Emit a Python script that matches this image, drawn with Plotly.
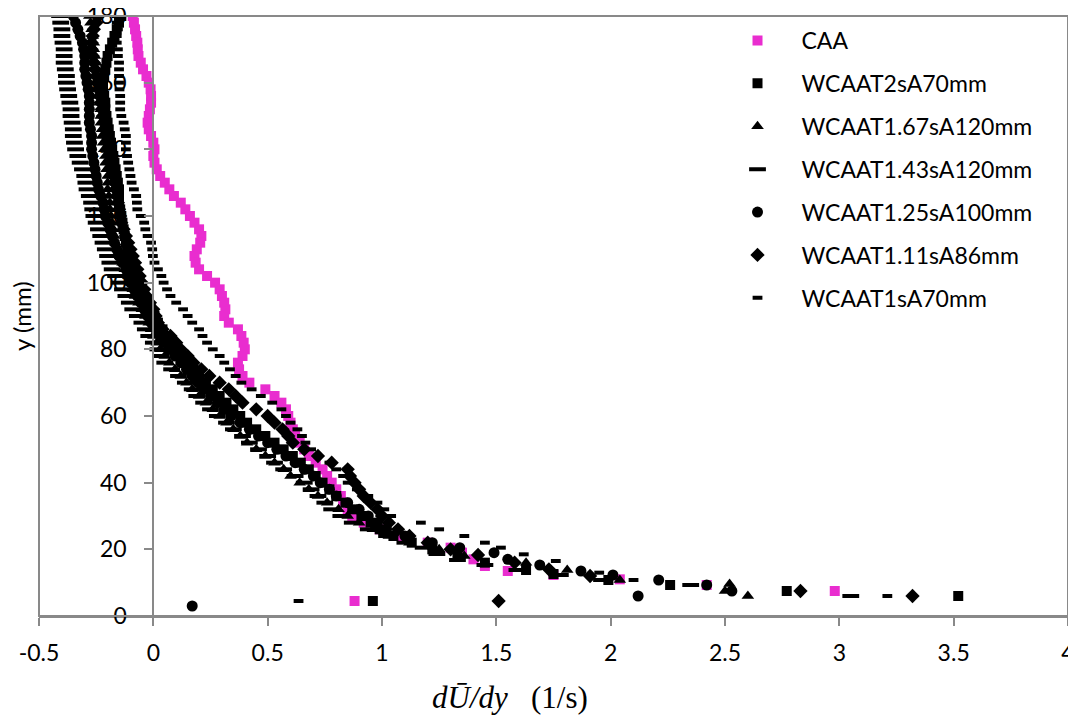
import plotly.graph_objects as go

# Shared y grid (mm) for the profile part of every series
Y_GRID = [180, 178, 176, 174, 172, 170, 168, 166, 164, 162, 160, 158, 156, 154, 152, 150,
          148, 146, 144, 142, 140, 138, 136, 134, 132, 130, 128, 126, 124, 122, 120, 118,
          116, 114, 112, 110, 108, 106, 104, 102, 100, 98, 96, 94, 92, 90, 88, 86,
          84, 82, 80, 78, 76, 74, 72, 70, 68, 66, 64, 62, 60, 58, 56, 54,
          52, 50, 48, 46, 44, 42, 40, 38, 36, 34, 32, 30, 28, 26, 24, 22]

# dU/dy (1/s) along Y_GRID
CAA_X = [-0.09, -0.085, -0.08, -0.075, -0.07, -0.068, -0.065, -0.055, -0.045, -0.03, -0.02, -0.012, -0.01, -0.01, -0.015, -0.02,
         -0.025, -0.02, -0.01, 0.0, 0.005, 0.0, 0.005, 0.015, 0.03, 0.05, 0.07, 0.09, 0.12, 0.14, 0.16, 0.18,
         0.2, 0.21, 0.205, 0.19, 0.18, 0.185, 0.2, 0.235, 0.27, 0.29, 0.3, 0.31, 0.315, 0.31, 0.33, 0.37,
         0.385, 0.395, 0.4, 0.39, 0.37, 0.375, 0.39, 0.42, 0.49, 0.53, 0.56, 0.58, 0.59, 0.6, 0.61, 0.62,
         0.64, 0.66, 0.68, 0.71, 0.74, 0.76, 0.78, 0.8, 0.82, 0.83, 0.85, 0.87, 0.92, 0.99, 1.08, 1.2]
CAA_NEAR_Y = [20.5, 19, 17, 15, 13.5, 12.3, 11, 9.3, 7.5, 4.5]
CAA_NEAR_X = [1.3, 1.35, 1.4, 1.45, 1.55, 1.75, 2.04, 2.42, 2.98, 0.88]

T2_X = [-0.14, -0.15, -0.16, -0.17, -0.18, -0.19, -0.2, -0.205, -0.21, -0.215, -0.22, -0.22, -0.215, -0.21, -0.21, -0.205,
        -0.2, -0.195, -0.19, -0.185, -0.18, -0.175, -0.17, -0.165, -0.16, -0.155, -0.15, -0.15, -0.15, -0.145, -0.14, -0.135,
        -0.13, -0.125, -0.12, -0.115, -0.11, -0.1, -0.09, -0.08, -0.07, -0.055, -0.04, -0.025, -0.01, 0.005, 0.02, 0.04,
        0.06, 0.08, 0.1, 0.125, 0.15, 0.175, 0.2, 0.23, 0.26, 0.29, 0.32, 0.35, 0.38, 0.41, 0.45, 0.49,
        0.53, 0.57, 0.61, 0.645, 0.68, 0.71, 0.74, 0.77, 0.8, 0.84, 0.87, 0.91, 0.95, 0.99, 1.05, 1.13]
T2_NEAR_Y = [20, 18, 16, 13.8, 12.6, 10.8, 9.3, 7.5, 6, 4.5]
T2_NEAR_X = [1.22, 1.33, 1.45, 1.63, 1.75, 1.99, 2.26, 2.77, 3.52, 0.96]

T167_X = [-0.28, -0.275, -0.27, -0.265, -0.26, -0.26, -0.255, -0.25, -0.25, -0.25, -0.245, -0.24, -0.24, -0.235, -0.23, -0.23,
          -0.23, -0.225, -0.225, -0.22, -0.215, -0.21, -0.21, -0.205, -0.2, -0.2, -0.2, -0.195, -0.19, -0.19, -0.185, -0.18,
          -0.175, -0.17, -0.165, -0.155, -0.145, -0.135, -0.125, -0.11, -0.1, -0.09, -0.08, -0.065, -0.05, -0.035, -0.02, -0.01,
          0.0, 0.015, 0.03, 0.05, 0.07, 0.095, 0.12, 0.145, 0.17, 0.2, 0.23, 0.26, 0.29, 0.32, 0.35, 0.38,
          0.41, 0.45, 0.49, 0.53, 0.57, 0.6, 0.64, 0.68, 0.72, 0.76, 0.81, 0.85, 0.9, 0.96, 1.03, 1.12]
T167_NEAR_Y = [20, 18, 16, 13.8, 10.8, 9.6, 7.5, 6]
T167_NEAR_X = [1.25, 1.36, 1.63, 1.81, 2.04, 2.52, 2.5, 2.6]

T143_X = [-0.41, -0.405, -0.4, -0.4, -0.395, -0.39, -0.39, -0.39, -0.385, -0.38, -0.38, -0.375, -0.37, -0.365, -0.36, -0.36,
          -0.355, -0.35, -0.35, -0.345, -0.34, -0.33, -0.32, -0.31, -0.3, -0.295, -0.29, -0.28, -0.27, -0.265, -0.26, -0.25,
          -0.24, -0.23, -0.22, -0.21, -0.2, -0.19, -0.18, -0.165, -0.15, -0.135, -0.12, -0.105, -0.09, -0.07, -0.05, -0.035,
          -0.02, 0.0, 0.02, 0.035, 0.05, 0.08, 0.11, 0.14, 0.17, 0.19, 0.22, 0.25, 0.28, 0.32, 0.35, 0.39,
          0.42, 0.46, 0.5, 0.53, 0.57, 0.62, 0.66, 0.69, 0.72, 0.75, 0.78, 0.82, 0.87, 0.94, 1.02, 1.1]
T143_NEAR_Y = [20.5, 18.6, 16.8, 15.3, 13.8, 12.3, 10.8, 9.3, 6]
T143_NEAR_X = [1.18, 1.24, 1.33, 1.45, 1.59, 1.78, 1.96, 2.35, 3.05]

T125_X = [-0.35, -0.34, -0.33, -0.32, -0.31, -0.305, -0.3, -0.3, -0.3, -0.295, -0.29, -0.285, -0.28, -0.28, -0.28, -0.28,
          -0.28, -0.275, -0.27, -0.27, -0.27, -0.265, -0.26, -0.255, -0.25, -0.245, -0.24, -0.23, -0.22, -0.215, -0.21, -0.2,
          -0.19, -0.18, -0.17, -0.16, -0.15, -0.135, -0.12, -0.11, -0.1, -0.085, -0.07, -0.055, -0.04, -0.025, -0.01, 0.01,
          0.03, 0.05, 0.07, 0.095, 0.12, 0.145, 0.17, 0.195, 0.22, 0.25, 0.28, 0.31, 0.34, 0.38, 0.42, 0.46,
          0.5, 0.54, 0.58, 0.62, 0.66, 0.7, 0.73, 0.77, 0.8, 0.85, 0.9, 0.94, 0.98, 1.02, 1.1, 1.22]
T125_NEAR_Y = [20.5, 19, 17, 15.3, 13.5, 12.3, 10.8, 9.3, 7.5, 6, 3]
T125_NEAR_X = [1.34, 1.49, 1.55, 1.69, 1.87, 2.01, 2.21, 2.42, 2.53, 2.12, 0.17]

T111_X = [-0.24, -0.25, -0.26, -0.265, -0.27, -0.27, -0.265, -0.26, -0.255, -0.25, -0.245, -0.24, -0.235, -0.23, -0.225, -0.22,
          -0.215, -0.21, -0.205, -0.2, -0.195, -0.19, -0.185, -0.18, -0.175, -0.17, -0.165, -0.16, -0.155, -0.15, -0.145, -0.14,
          -0.13, -0.12, -0.11, -0.1, -0.09, -0.08, -0.07, -0.06, -0.05, -0.04, -0.03, -0.015, 0.0, 0.01, 0.02, 0.04,
          0.075, 0.1, 0.12, 0.15, 0.175, 0.21, 0.245, 0.29, 0.33, 0.36, 0.39, 0.45, 0.5, 0.53, 0.565, 0.59,
          0.61, 0.66, 0.72, 0.78, 0.85, 0.86, 0.88, 0.9, 0.92, 0.95, 0.98, 1.0, 1.03, 1.07, 1.12, 1.2]
T111_NEAR_Y = [20, 18.3, 16, 14, 12, 7.5, 6, 4.5]
T111_NEAR_X = [1.3, 1.42, 1.58, 1.73, 1.91, 2.83, 3.32, 1.51]

T1_X = [-0.16, -0.16, -0.155, -0.16, -0.16, -0.155, -0.155, -0.15, -0.15, -0.15, -0.15, -0.148, -0.145, -0.145, -0.145, -0.14,
        -0.13, -0.125, -0.12, -0.12, -0.12, -0.115, -0.11, -0.105, -0.1, -0.095, -0.085, -0.075, -0.072, -0.07, -0.055, -0.04,
        -0.035, -0.025, -0.01, -0.005, -0.002, 0.005, 0.02, 0.035, 0.045, 0.06, 0.075, 0.1, 0.13, 0.15, 0.17, 0.2,
        0.215, 0.235, 0.26, 0.29, 0.31, 0.335, 0.36, 0.385, 0.43, 0.47, 0.52, 0.56, 0.58, 0.6, 0.63, 0.65,
        0.665, 0.69, 0.72, 0.77, 0.8, 0.83, 0.85, 0.89, 0.94, 0.98, 1.01, 1.04, 1.17, 1.25, 1.36, 1.45]
T1_NEAR_Y = [20.5, 18.5, 16.5, 13, 10.8, 6, 4.5]
T1_NEAR_X = [1.52, 1.62, 1.76, 1.95, 2.1, 3.21, 0.635]

SERIES = [
    ("CAA", CAA_X, CAA_NEAR_Y, CAA_NEAR_X),
    ("WCAAT2sA70mm", T2_X, T2_NEAR_Y, T2_NEAR_X),
    ("WCAAT1.67sA120mm", T167_X, T167_NEAR_Y, T167_NEAR_X),
    ("WCAAT1.43sA120mm", T143_X, T143_NEAR_Y, T143_NEAR_X),
    ("WCAAT1.25sA100mm", T125_X, T125_NEAR_Y, T125_NEAR_X),
    ("WCAAT1.11sA86mm", T111_X, T111_NEAR_Y, T111_NEAR_X),
    ("WCAAT1sA70mm", T1_X, T1_NEAR_Y, T1_NEAR_X),
]

X_TICKS = [-0.5, 0, 0.5, 1, 1.5, 2, 2.5, 3, 3.5, 4]
X_TICK_TEXT = ["-0.5", "0", "0.5", "1", "1.5", "2", "2.5", "3", "3.5", "4"]
Y_TICKS = [0, 20, 40, 60, 80, 100, 120, 140, 160, 180]

MAGENTA = "#E92DCF"
STYLES = {
    "CAA": dict(symbol="square", size=10, color=MAGENTA),
    "WCAAT2sA70mm": dict(symbol="square", size=10, color="black"),
    "WCAAT1.67sA120mm": dict(symbol="triangle-up", size=11, color="black"),
    "WCAAT1.43sA120mm": dict(symbol="line-ew", size=12, color="black",
                             line=dict(width=4, color="black")),
    "WCAAT1.25sA100mm": dict(symbol="circle", size=11, color="black"),
    "WCAAT1.11sA86mm": dict(symbol="diamond", size=11, color="black"),
    "WCAAT1sA70mm": dict(symbol="line-ew", size=7, color="black",
                         line=dict(width=4, color="black")),
}

fig = go.Figure()
for i, (name, xs, ny, nx) in enumerate(SERIES):
    fig.add_trace(go.Scatter(
        x=list(xs) + list(nx), y=list(Y_GRID) + list(ny),
        mode="markers", name=name, legendgroup=f"g{i}",
        marker=STYLES[name],
    ))

AXC = "#898989"
FONT = "Lato, Carlito, sans-serif"
# page body has an 8px default margin, so the figure is offset by 8px
fig.update_layout(
    width=1068, height=710,
    margin=dict(l=31, r=8, t=8, b=102),
    paper_bgcolor="white", plot_bgcolor="white",
    font=dict(family=FONT, size=23, color="black"),
    showlegend=True,
    legend=dict(x=0.6555, y=0.995, xanchor="left", yanchor="top",
                bgcolor="rgba(0,0,0,0)", tracegroupgap=10, itemwidth=78,
                font=dict(family=FONT, size=23)),
    xaxis=dict(range=[-0.5, 4], tickvals=X_TICKS, ticktext=X_TICK_TEXT, automargin=False,
               showgrid=False, zeroline=False, showline=True, linecolor=AXC, linewidth=2,
               ticks="outside", ticklen=8, tickwidth=2, tickcolor=AXC, anchor="y",
               ticklabelstandoff=7, ticklabeloverflow="allow"),
    yaxis=dict(range=[0, 180], tickvals=Y_TICKS, showgrid=False, zeroline=False, automargin=False,
               showline=True, linecolor=AXC, linewidth=2, ticks="outside", ticklen=8,
               tickwidth=2, tickcolor=AXC, anchor="free", position=0.5 / 4.5,
               ticklabelstandoff=13, ticklabeloverflow="allow", layer="above traces"),
    shapes=[dict(type="rect", xref="paper", yref="paper", x0=0, x1=1, y0=0, y1=1,
                 line=dict(color=AXC, width=2), layer="above")],
    annotations=[
        dict(text="y (mm)", xref="paper", yref="paper", x=-0.0175, y=0.5,
             xanchor="center", yanchor="middle",
             textangle=-90, showarrow=False, font=dict(family=FONT, size=24)),
        dict(text='<i>d\u016a/dy</i>&nbsp;&nbsp;&nbsp;(1/s)',
             xref="paper", yref="paper", x=0.458, y=-0.135, showarrow=False,
             xanchor="center", yanchor="middle",
             font=dict(family="Liberation Serif, Times New Roman, serif", size=31)),
    ],
)

fig.write_html("out.html")
